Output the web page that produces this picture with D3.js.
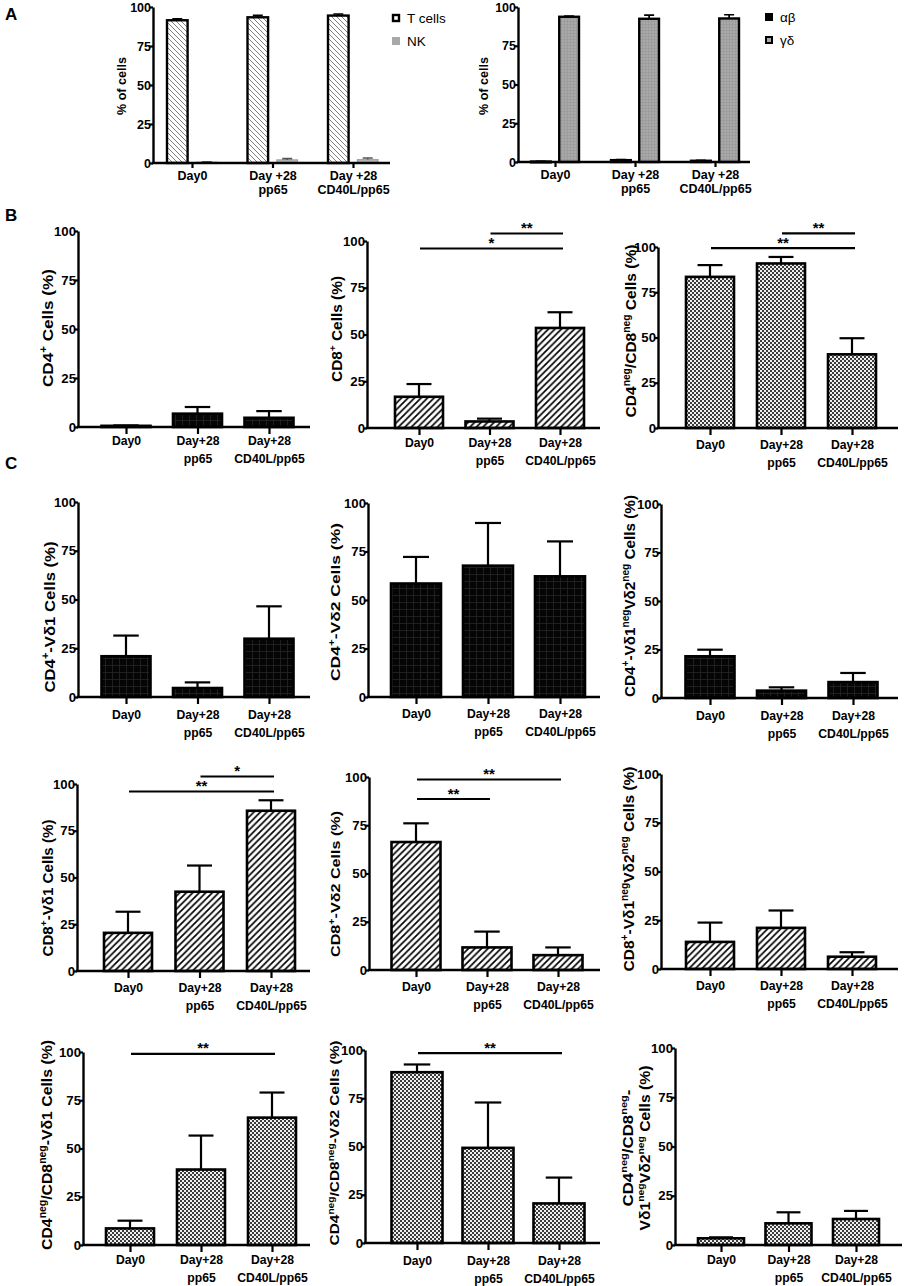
<!DOCTYPE html>
<html><head><meta charset="utf-8">
<script src="https://cdn.jsdelivr.net/npm/d3@7"></script>
<style>body{margin:0;background:#fff}svg{display:block}</style>
</head><body>
<svg id="fig" width="905" height="1286"></svg>
<script>
// ---------------- DATA ----------------
const categories  = ["Day0", "Day+28\npp65", "Day+28\nCD40L/pp65"];
const categoriesA = ["Day0", "Day +28\npp65", "Day +28\nCD40L/pp65"];
const yTicks = [0, 25, 50, 75, 100];

// Panel A
const seriesA1 = ["T cells", "NK"];
const tcellMean = [91.5, 93.4, 94.5], tcellSem = [0.9, 1.2, 1.0];
const nkMean    = [0.5, 2.0, 2.2],    nkSem    = [0.2, 0.8, 1.0];
const seriesA2 = ["αβ", "γδ"];
const abMean = [0.3, 1.2, 0.8],    abSem = [0.1, 0.4, 0.3];
const gdMean = [93.7, 92.4, 92.6], gdSem = [0.4, 2.4, 2.4];

// Panel B
const cd4Mean = [0.6, 6.8, 4.7],    cd4Sem = [0.2, 3.4, 3.4];
const cd8Mean = [16.7, 3.5, 53.5],  cd8Sem = [6.8, 1.5, 8.4];
const dnMean  = [83.5, 90.9, 40.7], dnSem  = [6.5, 3.6, 8.9];

// Panel C
const cd4Vd1Mean = [20.9, 4.6, 29.9],  cd4Vd1Sem = [10.6, 2.9, 16.6];
const cd4Vd2Mean = [58.5, 67.7, 62.2], cd4Vd2Sem = [13.7, 22.0, 18.0];
const cd4NNMean  = [21.5, 3.8, 8.2],   cd4NNSem  = [3.4, 1.7, 4.7];
const cd8Vd1Mean = [20.4, 42.4, 85.7], cd8Vd1Sem = [11.3, 14.0, 5.6];
const cd8Vd2Mean = [66.3, 11.7, 7.7],  cd8Vd2Sem = [9.7, 8.2, 4.0];
const cd8NNMean  = [13.9, 21.1, 6.3],  cd8NNSem  = [9.9, 8.9, 2.3];
const dnVd1Mean  = [8.6, 39.1, 66.0],  dnVd1Sem  = [4.0, 17.6, 13.0];
const dnVd2Mean  = [88.5, 49.3, 20.5], dnVd2Sem  = [4.0, 23.5, 13.4];
const dnNNMean   = [3.4, 11.0, 13.2],  dnNNSem   = [0.5, 5.6, 4.1];

// significance brackets (group indices, height in % units, label)
const sigCD8    = [{from:1,to:2,y:104,label:"**"},{from:0,to:2,y:96,label:"*"}];
const sigDN     = [{from:1,to:2,y:107.5,label:"**"},{from:0,to:2,y:99.4,label:"**"}];
const sigCD8Vd1 = [{from:1,to:2,y:104,label:"*"},{from:0,to:2,y:96,label:"**"}];
const sigCD8Vd2 = [{from:0,to:2,y:98.7,label:"**"},{from:0,to:1,y:88.6,label:"**"}];
const sigDNVd1  = [{from:0,to:2,y:99,label:"**"}];
const sigDNVd2  = [{from:0,to:2,y:98.4,label:"**"}];

// titles: [text, superscript?]
const titles = {
  B1: [[["CD4",0],["+",1],[" Cells (%)",0]]],
  B2: [[["CD8",0],["+",1],[" Cells (%)",0]]],
  B3: [[["CD4",0],["neg",1],["/CD8",0],["neg",1],[" Cells (%)",0]]],
  C1: [[["CD4",0],["+",1],["-Vδ1 Cells (%)",0]]],
  C2: [[["CD4",0],["+",1],["-Vδ2 Cells (%)",0]]],
  C3: [[["CD4",0],["+",1],["-Vδ1",0],["neg",1],["Vδ2",0],["neg",1],[" Cells (%)",0]]],
  C4: [[["CD8",0],["+",1],["-Vδ1 Cells (%)",0]]],
  C5: [[["CD8",0],["+",1],["-Vδ2 Cells (%)",0]]],
  C6: [[["CD8",0],["+",1],["-Vδ1",0],["neg",1],["Vδ2",0],["neg",1],[" Cells (%)",0]]],
  C7: [[["CD4",0],["neg",1],["/CD8",0],["neg",1],["-Vδ1 Cells (%)",0]]],
  C8: [[["CD4",0],["neg",1],["/CD8",0],["neg",1],["-Vδ2 Cells (%)",0]]],
  C9: [[["CD4",0],["neg",1],["/CD8",0],["neg",1],["-",0]],
       [["Vδ1",0],["neg",1],["Vδ2",0],["neg",1],[" Cells (%)",0]]]
};

// ---------------- LAYOUT ----------------
const FONT = '"Liberation Sans", Arial, Helvetica, sans-serif';
const layout = [
 {id:"B1",mean:cd4Mean,sem:cd4Sem,fill:"url(#blk)",sig:[],
  ax:78,top:231,bot:427,end:310,c0:126,c2:269,bw:49,tx:[53],ty:328,tlen:[118],fs:15.5,ldy:18},
 {id:"B2",mean:cd8Mean,sem:cd8Sem,fill:"url(#hatch)",sig:sigCD8,
  ax:367,top:241,bot:428,end:600,c0:419,c2:560,bw:48,tx:[342],ty:329,tlen:[106],fs:14.5,ldy:19},
 {id:"B3",mean:dnMean,sem:dnSem,fill:"url(#chk)",sig:sigDN,
  ax:658,top:247,bot:428,end:898,c0:710,c2:852,bw:48,tx:[636],ty:331,tlen:[173],fs:15.5,ldy:21},
 {id:"C1",mean:cd4Vd1Mean,sem:cd4Vd1Sem,fill:"url(#blk)",sig:[],
  ax:78,top:502,bot:697,end:310,c0:126,c2:269,bw:49,tx:[55],ty:617,tlen:[151],fs:15.5,ldy:22},
 {id:"C2",mean:cd4Vd2Mean,sem:cd4Vd2Sem,fill:"url(#blk)",sig:[],
  ax:368,top:503,bot:697,end:600,c0:416,c2:560,bw:50,tx:[340],ty:602,tlen:[158],fs:13,ldy:21},
 {id:"C3",mean:cd4NNMean,sem:cd4NNSem,fill:"url(#blk)",sig:[],
  ax:661,top:504,bot:698,end:898,c0:710,c2:853,bw:49,tx:[635],ty:596,tlen:[202],fs:15.5,ldy:22},
 {id:"C4",mean:cd8Vd1Mean,sem:cd8Vd1Sem,fill:"url(#hatch)",sig:sigCD8Vd1,
  ax:77,top:784,bot:971,end:310,c0:128,c2:271,bw:48,tx:[53],ty:888,tlen:[137],fs:14.5,ldy:21},
 {id:"C5",mean:cd8Vd2Mean,sem:cd8Vd2Sem,fill:"url(#hatch)",sig:sigCD8Vd2,
  ax:369,top:777,bot:970,end:600,c0:416,c2:558,bw:49,tx:[340],ty:884,tlen:[146],fs:13,ldy:20.5},
 {id:"C6",mean:cd8NNMean,sem:cd8NNSem,fill:"url(#hatch)",sig:[],
  ax:661,top:774,bot:969,end:898,c0:710,c2:852,bw:48,tx:[634],ty:869,tlen:[205],fs:15.5,ldy:21},
 {id:"C7",mean:dnVd1Mean,sem:dnVd1Sem,fill:"url(#chk)",sig:sigDNVd1,
  ax:83,top:1052,bot:1245,end:310,c0:130,c2:272,bw:48,tx:[52],ty:1145,tlen:[210],fs:15.5,ldy:18.5},
 {id:"C8",mean:dnVd2Mean,sem:dnVd2Sem,fill:"url(#chk)",sig:sigDNVd2,
  ax:365,top:1050,bot:1243,end:600,c0:417,c2:559,bw:51,tx:[339],ty:1143,tlen:[205],fs:13,ldy:22},
 {id:"C9",mean:dnNNMean,sem:dnNNSem,fill:"url(#chk)",sig:[],
  ax:675,top:1048,bot:1245,end:902,c0:721,c2:856,bw:46,tx:[633,650],ty:1148,tlen:[117,165],fs:14.5,ldy:19}
];

const svg = d3.select("#fig");
svg.append("rect").attr("width",905).attr("height",1286).attr("fill","#fff");
const defs = svg.append("defs");

// patterns
const pHatch = defs.append("pattern").attr("id","hatch").attr("patternUnits","userSpaceOnUse")
  .attr("width",6.5).attr("height",6.5);
pHatch.append("rect").attr("width",6.5).attr("height",6.5).attr("fill","#fff");
pHatch.append("path").attr("d","M-1,1 l2,-2 M0,6.5 l6.5,-6.5 M5.5,7.5 l2,-2")
  .attr("stroke","#000").attr("stroke-width",1.7);

const pHatchA = defs.append("pattern").attr("id","hatchA").attr("patternUnits","userSpaceOnUse")
  .attr("width",5).attr("height",5);
pHatchA.append("rect").attr("width",5).attr("height",5).attr("fill","#fff");
pHatchA.append("path").attr("d","M-1,4 l2,2 M0,0 l5,5 M4,-1 l2,2")
  .attr("stroke","#707070").attr("stroke-width",0.9);

const pBlk = defs.append("pattern").attr("id","blk").attr("patternUnits","userSpaceOnUse")
  .attr("width",7).attr("height",7);
pBlk.append("rect").attr("width",7).attr("height",7).attr("fill","#050505");
pBlk.append("path").attr("d","M0,0.5 H7 M0.5,0 V7").attr("stroke","#262626").attr("stroke-width",0.8);

const pChk = defs.append("pattern").attr("id","chk").attr("patternUnits","userSpaceOnUse")
  .attr("width",4).attr("height",4);
pChk.append("rect").attr("width",4).attr("height",4).attr("fill","#efefef");
pChk.append("rect").attr("width",2).attr("height",2).attr("fill","#3c3c3c");
pChk.append("rect").attr("x",2).attr("y",2).attr("width",2).attr("height",2).attr("fill","#3c3c3c");

const pGd = defs.append("pattern").attr("id","gd").attr("patternUnits","userSpaceOnUse")
  .attr("width",3).attr("height",3);
pGd.append("rect").attr("width",3).attr("height",3).attr("fill","#a9a9a9");
pGd.append("path").attr("d","M0,0.5 H3 M0.5,0 V3").attr("stroke","#9a9a9a").attr("stroke-width",0.7);

// panel letters
[["A",20],["B",221],["C",469]].forEach(([t,y])=>{
  svg.append("text").attr("x",5).attr("y",y).text(t)
    .attr("font-family",FONT).attr("font-weight","bold").attr("font-size",17);
});

function addTitle(g, lines, txs, ty, tlens, fs){
  lines.forEach((parts,li)=>{
    const t = g.append("text")
      .attr("transform",`translate(${txs[li]},${ty}) rotate(-90)`)
      .attr("text-anchor","middle").attr("font-family",FONT)
      .attr("font-weight","bold").attr("font-size",fs)
      .attr("textLength",tlens[li]).attr("lengthAdjust","spacingAndGlyphs");
    let prevSup = false;
    parts.forEach(([s,sup])=>{
      const ts = t.append("tspan").text(s);
      if (sup){ ts.attr("font-size",fs*0.66).attr("dy",prevSup?0:-fs*0.42); }
      else { ts.attr("dy",prevSup?fs*0.42:0); }
      prevSup = !!sup;
    });
  });
}

function styleYAxis(sel, fs){
  sel.attr("font-family",FONT).attr("font-weight","bold").attr("font-size",fs);
  sel.select(".domain").attr("stroke","#000").attr("stroke-width",2.4);
  sel.selectAll(".tick line").attr("stroke","#000").attr("stroke-width",2.2);
  sel.selectAll(".tick text").attr("fill","#000");
}

function xLabels(sel, ldy, gap){
  sel.selectAll(".tick text").each(function(d){
    const t = d3.select(this);
    t.text(null).attr("y",null).attr("dy",null).attr("fill","#000");
    d.split("\n").forEach((line,i)=>{
      t.append("tspan").attr("x",0).attr("y",ldy+i*gap).text(line);
    });
  });
}

function drawPanel(p){
  const g = svg.append("g");
  const y = d3.scaleLinear().domain([0,100]).range([p.bot,p.top]);
  const x = d3.scalePoint().domain(categories).range([p.c0,p.c2]);
  const rows = categories.map((c,i)=>({c, m:p.mean[i], s:p.sem[i]}));

  // bars
  g.selectAll("rect.bar").data(rows).join("rect").attr("class","bar")
    .attr("x",d=>x(d.c)-p.bw/2).attr("width",p.bw)
    .attr("y",d=>y(d.m)).attr("height",d=>p.bot-y(d.m))
    .attr("fill",p.fill).attr("stroke","#000").attr("stroke-width",2.6);
  // error bars
  const cap = p.bw*0.52;
  g.selectAll("line.eb").data(rows).join("line").attr("class","eb")
    .attr("x1",d=>x(d.c)).attr("x2",d=>x(d.c))
    .attr("y1",d=>y(d.m)).attr("y2",d=>y(d.m+d.s))
    .attr("stroke","#000").attr("stroke-width",2.2);
  g.selectAll("line.cap").data(rows).join("line").attr("class","cap")
    .attr("x1",d=>x(d.c)-cap/2).attr("x2",d=>x(d.c)+cap/2)
    .attr("y1",d=>y(d.m+d.s)).attr("y2",d=>y(d.m+d.s))
    .attr("stroke","#000").attr("stroke-width",2.2);

  // axes
  const ya = g.append("g").attr("transform",`translate(${p.ax},0)`)
    .call(d3.axisLeft(y).tickValues(yTicks).tickSize(4).tickSizeOuter(0).tickPadding(-2));
  styleYAxis(ya, 13.2);
  g.append("line").attr("x1",p.ax-1.2).attr("x2",p.end).attr("y1",p.bot).attr("y2",p.bot)
    .attr("stroke","#000").attr("stroke-width",2.4);
  const xa = g.append("g").attr("transform",`translate(0,${p.bot})`)
    .call(d3.axisBottom(x).tickSize(7).tickSizeOuter(0));
  xa.select(".domain").remove();
  xa.attr("font-family",FONT).attr("font-weight","bold").attr("font-size",12.2);
  xa.selectAll(".tick line").attr("stroke","#000").attr("stroke-width",2.2);
  xLabels(xa, p.ldy, 18);

  // significance
  p.sig.forEach(s=>{
    const x1 = x(categories[s.from])+1, x2 = x(categories[s.to])+3;
    g.append("line").attr("x1",x1).attr("x2",x2).attr("y1",y(s.y)).attr("y2",y(s.y))
      .attr("stroke","#000").attr("stroke-width",2.2);
    g.append("text").attr("x",(x1+x2)/2).attr("y",y(s.y)-0.5).attr("text-anchor","middle")
      .attr("font-family",FONT).attr("font-weight","bold").attr("font-size",15).text(s.label);
  });

  addTitle(g, titles[p.id], p.tx, p.ty, p.tlen, p.fs);
}
layout.forEach(drawPanel);

// ---------------- PANEL A ----------------
function drawGrouped(cfg){
  const g = svg.append("g");
  const y = d3.scaleLinear().domain([0,100]).range([cfg.bot,cfg.top]);
  const x = d3.scalePoint().domain(categoriesA).range([cfg.c0,cfg.c2]);
  const inner = d3.scaleBand().domain(cfg.series).range([-cfg.half,cfg.half]).paddingInner(0.3);
  cfg.series.forEach((sname,si)=>{
    const rows = categoriesA.map((c,i)=>({c, m:cfg.means[si][i], s:cfg.sems[si][i]}));
    const st = cfg.styles[si];
    g.selectAll(null).data(rows).join("rect")
      .attr("x",d=>x(d.c)+inner(sname)).attr("width",inner.bandwidth())
      .attr("y",d=>y(d.m)).attr("height",d=>Math.max(cfg.bot-y(d.m),0.8))
      .attr("fill",st.fill).attr("stroke",st.stroke).attr("stroke-width",st.sw);
    const cx = d=>x(d.c)+inner(sname)+inner.bandwidth()/2;
    g.selectAll(null).data(rows).join("path")
      .attr("d",d=>`M${cx(d)},${y(d.m)}V${y(d.m+d.s)}M${cx(d)-5},${y(d.m+d.s)}H${cx(d)+5}`)
      .attr("fill","none").attr("stroke",st.eb).attr("stroke-width",1.7);
  });
  const ya = g.append("g").attr("transform",`translate(${cfg.ax},0)`)
    .call(d3.axisLeft(y).tickValues(yTicks).tickSize(4).tickSizeOuter(0).tickPadding(-2));
  styleYAxis(ya, 12.5);
  g.append("line").attr("x1",cfg.ax-1.2).attr("x2",cfg.end).attr("y1",cfg.bot).attr("y2",cfg.bot)
    .attr("stroke","#000").attr("stroke-width",2.4);
  const xa = g.append("g").attr("transform",`translate(0,${cfg.bot})`)
    .call(d3.axisBottom(x).tickSize(5).tickSizeOuter(0));
  xa.select(".domain").remove();
  xa.attr("font-family",FONT).attr("font-weight","bold").attr("font-size",12.5);
  xa.selectAll(".tick line").attr("stroke","#000").attr("stroke-width",2.2);
  xLabels(xa, 17, 13.5);
  addTitle(g, [[["% of cells",0]]], [cfg.tx], 86, [58], 13);
  // legend
  cfg.series.forEach((sname,si)=>{
    const ly = cfg.ly + si*23;
    const ls = cfg.legend[si];
    g.append("rect").attr("x",cfg.lx+ls.inset).attr("y",ly-4+ls.inset)
      .attr("width",8-2*ls.inset).attr("height",8-2*ls.inset)
      .attr("fill",ls.fill).attr("stroke",ls.stroke).attr("stroke-width",ls.sw);
    g.append("text").attr("x",cfg.lx+15).attr("y",ly+5).text(sname)
      .attr("font-family",FONT).attr("font-size",13.5);
  });
}

drawGrouped({
  series:seriesA1, means:[tcellMean,nkMean], sems:[tcellSem,nkSem],
  styles:[{fill:"url(#hatchA)",stroke:"#000",sw:2.4,eb:"#000"},
          {fill:"#b5b5b5",stroke:"#a3a3a3",sw:1.2,eb:"#555"}],
  legend:[{fill:"#fff",stroke:"#000",sw:2.4,inset:1},{fill:"#a8a8a8",stroke:"none",sw:0,inset:0}],
  ax:153, top:7, bot:163, end:390, c0:192, c2:353, half:25, tx:126, lx:392, ly:18
});
drawGrouped({
  series:seriesA2, means:[abMean,gdMean], sems:[abSem,gdSem],
  styles:[{fill:"#000",stroke:"#000",sw:2.4,eb:"#000"},
          {fill:"url(#gd)",stroke:"#000",sw:2.4,eb:"#000"}],
  legend:[{fill:"#000",stroke:"none",sw:0,inset:0},{fill:"#aaa",stroke:"#000",sw:2,inset:1}],
  ax:518, top:7, bot:162, end:750, c0:555, c2:715, half:24, tx:488, lx:765, ly:17
});
</script>
</body></html>
